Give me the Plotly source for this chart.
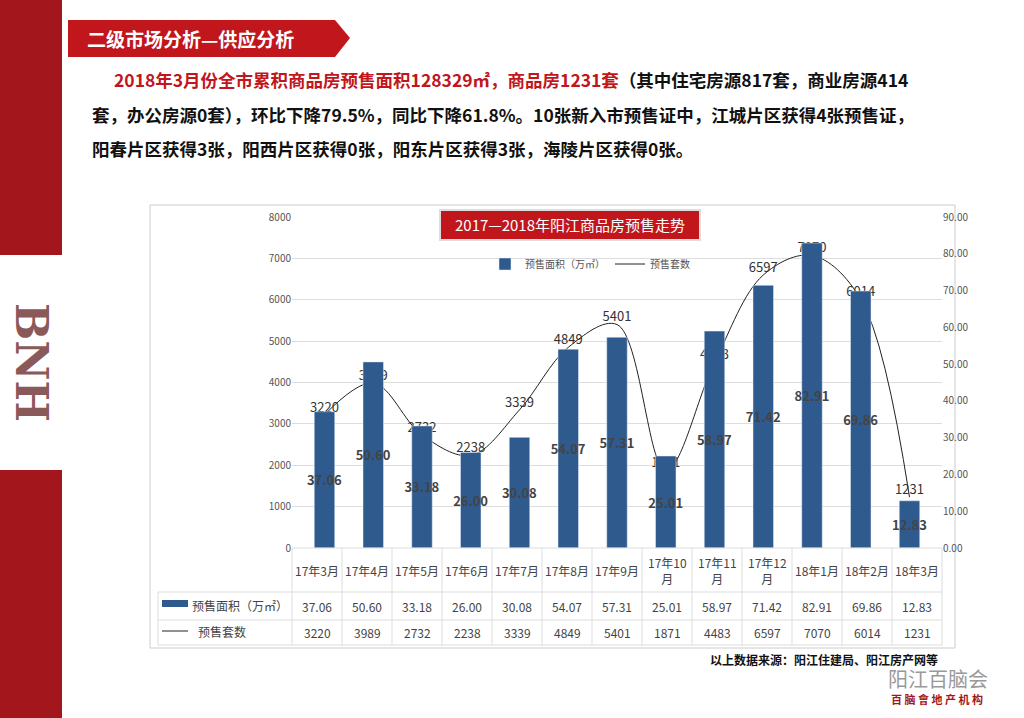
import plotly.graph_objects as go

months = ["17年3月", "17年4月", "17年5月", "17年6月", "17年7月", "17年8月", "17年9月",
          "17年10<br>月", "17年11<br>月", "17年12<br>月", "18年1月", "18年2月", "18年3月"]
area = [37.06, 50.60, 33.18, 26.00, 30.08, 54.07, 57.31, 25.01, 58.97, 71.42, 82.91, 69.86, 12.83]
units = [3220, 3989, 2732, 2238, 3339, 4849, 5401, 1871, 4483, 6597, 7070, 6014, 1231]
left_ticks = [0, 1000, 2000, 3000, 4000, 5000, 6000, 7000, 8000]
right_ticks = [0, 10, 20, 30, 40, 50, 60, 70, 80, 90]

W, H = 1024, 718
def px(x): return x / W
def py(y): return 1 - y / H

BLUE = "#2e5a8e"
RED = "#c0161c"
FONT = "Noto Sans CJK SC"

fig = go.Figure()
fig.add_trace(go.Bar(
    x=months, y=area, yaxis="y2", name="预售面积（万㎡）", marker_color=BLUE, width=0.42,
    text=[f"<b>{v:.2f}</b>" for v in area], textposition="inside", insidetextanchor="middle",
    textangle=0, constraintext="none",
    textfont=dict(color="#444", size=13, family=FONT), cliponaxis=False))
fig.add_trace(go.Scatter(
    x=months, y=units, name="预售套数", mode="lines+text", line=dict(color="#222", width=1, shape="spline"),
    text=[str(v) for v in units], textposition="top center",
    textfont=dict(color="#333", size=13, family=FONT), cliponaxis=False))

fig.update_layout(
    width=W, height=H, margin=dict(l=0, r=0, t=0, b=0, autoexpand=False),
    paper_bgcolor="white", plot_bgcolor="rgba(0,0,0,0)",
    font=dict(family=FONT, color="#444"),
    bargap=0.5,
    xaxis=dict(domain=[px(292), px(942)], showticklabels=False, showgrid=False),
    yaxis=dict(domain=[py(548), py(217)], range=[0, 8000], tickvals=left_ticks,
               showgrid=True, gridcolor="#ddd", tickfont=dict(size=10, color="#555"), zeroline=False),
    yaxis2=dict(overlaying="y", side="right", range=[0, 90], tickvals=right_ticks,
                tickformat=".2f", showgrid=False, tickfont=dict(size=10, color="#555"), zeroline=False),
    legend=dict(orientation="h", x=px(485), y=py(264), xanchor="left", yanchor="middle",
                font=dict(size=10, color="#555"), bgcolor="rgba(0,0,0,0)"),
    showlegend=True,
)

shapes = []
ann = []
def note(text, x, y, size, color, anchor="center", **kw):
    ann.append(dict(text=text, x=px(x), y=py(y), xref="paper", yref="paper", xanchor=anchor,
                    yanchor="middle", showarrow=False, font=dict(size=size, color=color, **kw.pop("f", {})), **kw))

# left red strip with BNH
shapes.append(dict(type="rect", xref="paper", yref="paper", x0=0, x1=px(62), y0=0, y1=1,
                   fillcolor="#a3161b", line_width=0, layer="below"))
shapes.append(dict(type="rect", xref="paper", yref="paper", x0=0, x1=px(62), y0=py(470), y1=py(255),
                   fillcolor="white", line_width=0, layer="below"))
note("<b>BNH</b>", 32, 362, 44, "#8a5a5a", textangle=90, f=dict(family="DejaVu Serif"))
# header banner
shapes.append(dict(type="path", xref="paper", yref="paper",
                   path=f"M {px(68)},{py(20)} L {px(335)},{py(20)} L {px(350)},{py(38)} L {px(335)},{py(57)} L {px(68)},{py(57)} Z",
                   fillcolor=RED, line_width=0))
note("<b>二级市场分析—供应分析</b>", 85, 39, 19, "white", anchor="left")
lines = [
    "<b><span style='color:#c0161c'>2018年3月份全市累积商品房预售面积128329㎡，商品房1231套</span>（其中住宅房源817套，商业房源414</b>",
    "<b>套，办公房源0套），环比下降79.5%，同比下降61.8%。10张新入市预售证中，江城片区获得4张预售证，</b>",
    "<b>阳春片区获得3张，阳西片区获得0张，阳东片区获得3张，海陵片区获得0张。</b>",
]
for i, (t, x0) in enumerate(zip(lines, [112, 90, 90])):
    note(t, x0, 80 + i * 34, 17.5, "#111", anchor="left")
# chart frame
shapes.append(dict(type="rect", xref="paper", yref="paper", x0=px(150), x1=px(955), y0=py(648), y1=py(205),
                   line=dict(color="#ccc", width=1), layer="below"))
# chart title box
shapes.append(dict(type="rect", xref="paper", yref="paper", x0=px(440), x1=px(700), y0=py(240), y1=py(210),
                   fillcolor=RED, line=dict(color="#ddd", width=2)))
note("2017—2018年阳江商品房预售走势", 570, 225, 15, "white")
# data table
col_w = 650 / 13
rows_y = [548, 592, 620, 645]
xs = [158] + [292 + i * col_w for i in range(14)]
for y in rows_y:
    shapes.append(dict(type="line", xref="paper", yref="paper", x0=px(158 if y != 548 else 292), x1=px(942),
                       y0=py(y), y1=py(y), line=dict(color="#ddd", width=1)))
for i, x in enumerate(xs):
    shapes.append(dict(type="line", xref="paper", yref="paper", x0=px(x), x1=px(x),
                       y0=py(592 if i == 0 else 548), y1=py(645), line=dict(color="#ddd", width=1)))
for i, m in enumerate(months):
    cx = 292 + (i + 0.5) * col_w
    note(m, cx, 570, 12, "#444")
    note(f"{area[i]:.2f}", cx, 606, 12, "#444")
    note(str(units[i]), cx, 632, 12, "#444")
shapes.append(dict(type="rect", xref="paper", yref="paper", x0=px(162), x1=px(188), y0=py(607), y1=py(600),
                   fillcolor=BLUE, line_width=0))
shapes.append(dict(type="line", xref="paper", yref="paper", x0=px(162), x1=px(188), y0=py(631), y1=py(631),
                   line=dict(color="#222", width=1)))
note("预售面积（万㎡）", 190, 605, 12, "#444", anchor="left")
note("预售套数", 196, 631, 12, "#444", anchor="left")
note("<b>以上数据来源：阳江住建局、阳江房产网等</b>", 940, 659, 12, "#111", anchor="right")
note("阳江百脑会", 990, 678, 20, "#999", anchor="right")
note("<b>百 脑 會 地 产 机 构</b>", 985, 699, 11, "#a3161b", anchor="right")

fig.update_layout(shapes=shapes, annotations=ann)
fig.write_html("out.html", config={"displayModeBar": False},
               post_script="document.body.style.margin='0';")
